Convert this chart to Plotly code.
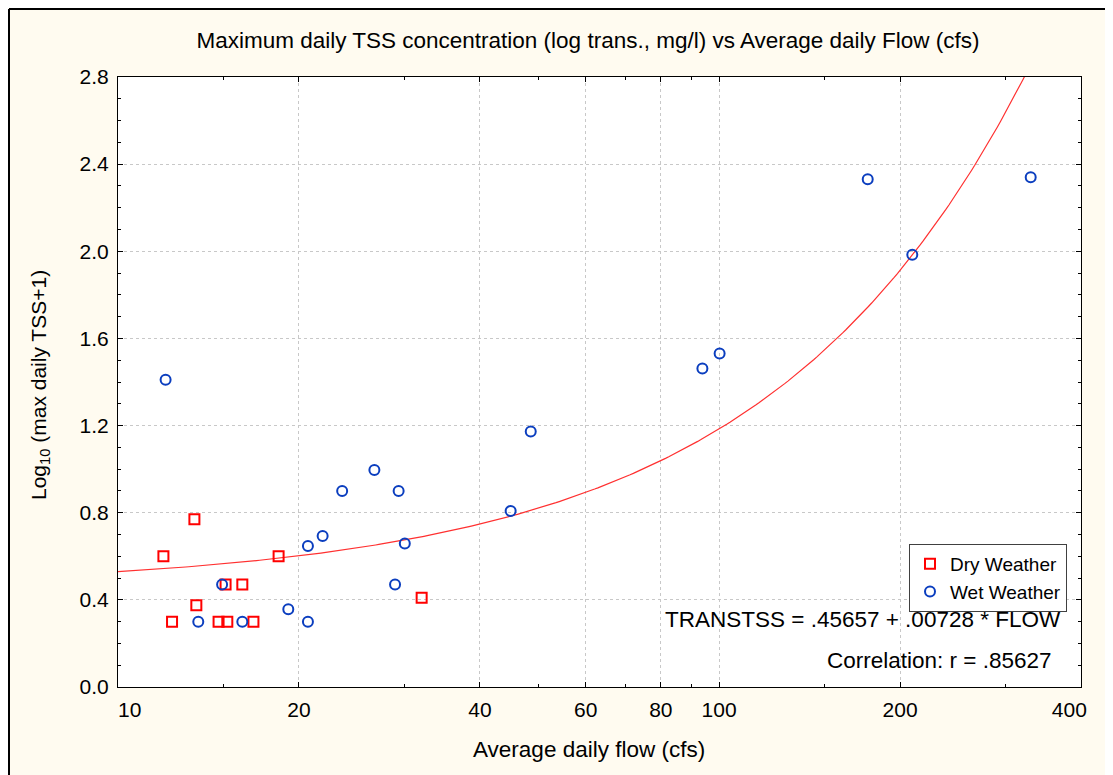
import numpy as np
import plotly.graph_objects as go

# Dry weather samples (flow cfs, log10(max TSS+1))
dry_flow = [11.9, 13.4, 13.5, 12.3, 14.7, 15.2, 15.1, 16.1, 16.8, 18.5, 32.0]
dry_tss = [0.60, 0.77, 0.375, 0.30, 0.30, 0.30, 0.47, 0.47, 0.30, 0.60, 0.41]

# Wet weather samples
wet_flow = [12.0, 14.9, 13.6, 16.1, 19.2, 20.7, 20.7, 21.9, 23.6, 26.7, 29.3, 30.0, 28.9,
            45.0, 48.6, 93.8, 100.2, 176.7, 209.6, 329.9]
wet_tss = [1.41, 0.47, 0.30, 0.30, 0.357, 0.30, 0.647, 0.693, 0.90, 0.996, 0.90, 0.659, 0.47,
           0.808, 1.173, 1.462, 1.531, 2.331, 1.984, 2.340]

# Regression shown in the chart
fit_intercept = 0.45657
fit_slope = 0.00728
fit_r = ".85627"

x_ticks = [10, 20, 40, 60, 80, 100, 200, 400]
x_minor = [15, 30, 50, 70, 90, 150, 300]

FONT = "Liberation Sans, Arial, sans-serif"
CREAM = "#FFFBF0"
NB = "\u00a0"

fit_x = np.geomspace(10, 400, 300)
fit_y = fit_intercept + fit_slope * fit_x

fig = go.Figure()
fig.add_trace(go.Scatter(x=fit_x, y=fit_y, mode="lines",
                         line=dict(color="#FF3030", width=1.2),
                         showlegend=False, hoverinfo="skip"))
fig.add_trace(go.Scatter(x=dry_flow, y=dry_tss, mode="markers", name="Dry Weather",
                         marker=dict(symbol="square-open", size=10, color="#FF0000",
                                     line=dict(width=2, color="#FF0000"))))
fig.add_trace(go.Scatter(x=wet_flow, y=wet_tss, mode="markers", name="Wet Weather",
                         marker=dict(symbol="circle-open", size=10, color="#0B3EBF",
                                     line=dict(width=2, color="#0B3EBF"))))

# page body has an 8px margin: figure pixel = screen pixel - 8
OFF = 8
SL, SR, ST, SB = 118, 1081, 77, 687          # plot area in screen pixels
W, H = 1113 - OFF, 775
L, R, T, B = SL - OFF, SR - OFF, ST - OFF, SB - OFF


def px(sx):
    return (sx - SL) / (SR - SL)


def py(sy):
    return (SB - sy) / (SB - ST)


shapes = [
    dict(type="line", xref="paper", yref="paper", x0=px(9), x1=px(1140), y0=py(9), y1=py(9),
         line=dict(color="black", width=2)),
    dict(type="line", xref="paper", yref="paper", x0=px(9), x1=px(9), y0=py(9), y1=py(800),
         line=dict(color="black", width=2)),
]

annotations = [
    dict(text="TRANSTSS = .45657 + .00728 * FLOW", xref="paper", yref="paper",
         x=px(1063), y=py(619), xanchor="right", yanchor="middle", showarrow=False,
         font=dict(family=FONT, size=22.5, color="black")),
    dict(text="Correlation: r = " + fit_r, xref="paper", yref="paper",
         x=px(1054), y=py(660), xanchor="right", yanchor="middle", showarrow=False,
         font=dict(family=FONT, size=22.5, color="black")),
    dict(text="Average daily flow (cfs)", xref="paper", yref="paper",
         x=px(589), y=py(749), xanchor="center", yanchor="middle", showarrow=False,
         font=dict(family=FONT, size=22.5, color="black")),
    dict(text="Log<sub>10</sub> (max daily TSS+1)", xref="paper", yref="paper",
         x=px(40), y=py(385), xanchor="center", yanchor="middle", showarrow=False,
         textangle=-90, font=dict(family=FONT, size=21, color="black")),
]

x_text = [str(v) for v in x_ticks]
x_text[0] = NB * 4 + x_text[0]
x_text[-1] = x_text[-1] + NB * 4

fig.update_layout(
    width=W, height=H,
    margin=dict(l=L, r=W - R, t=T, b=H - B, pad=0, autoexpand=False),
    paper_bgcolor=CREAM, plot_bgcolor="white",
    font=dict(family=FONT, size=21, color="black"),
    title=dict(text="Maximum daily TSS concentration (log trans., mg/l) vs Average daily Flow (cfs)",
               x=px(588), xref="paper", xanchor="center", y=1 - (40 - OFF) / H, yanchor="middle",
               font=dict(family=FONT, size=22.5, color="black")),
    xaxis=dict(type="log", range=[1, np.log10(400)], tickmode="array",
               tickvals=x_ticks, ticktext=x_text, ticklabeloverflow="allow", automargin=False,
               ticks="inside", ticklen=5, tickcolor="black",
               showline=True, linecolor="black", linewidth=1, mirror="ticks",
               showgrid=True, gridcolor="#C8C8C8", griddash="dot", gridwidth=1,
               zeroline=False, tickfont=dict(size=21), ticklabelstandoff=4,
               minor=dict(tickvals=x_minor, ticks="inside", ticklen=3, tickcolor="black", showgrid=False)),
    yaxis=dict(range=[0, 2.8], tickmode="linear", tick0=0, dtick=0.4, tickformat=".1f",
               automargin=False,
               ticks="inside", ticklen=5, tickcolor="black",
               showline=True, linecolor="black", linewidth=1, mirror="ticks",
               showgrid=True, gridcolor="#C8C8C8", griddash="dot", gridwidth=1,
               zeroline=False, tickfont=dict(size=21), ticklabelstandoff=4,
               minor=dict(dtick=0.1, tick0=0, ticks="inside", ticklen=3, tickcolor="black", showgrid=False)),
    legend=dict(x=px(1067), y=py(544), xanchor="right", yanchor="top",
                bgcolor="white", bordercolor="#404040", borderwidth=1,
                font=dict(family=FONT, size=19, color="black"),
                itemwidth=30, tracegroupgap=0),
    shapes=shapes,
    annotations=annotations,
    showlegend=True,
)

fig.write_html("out.html")
